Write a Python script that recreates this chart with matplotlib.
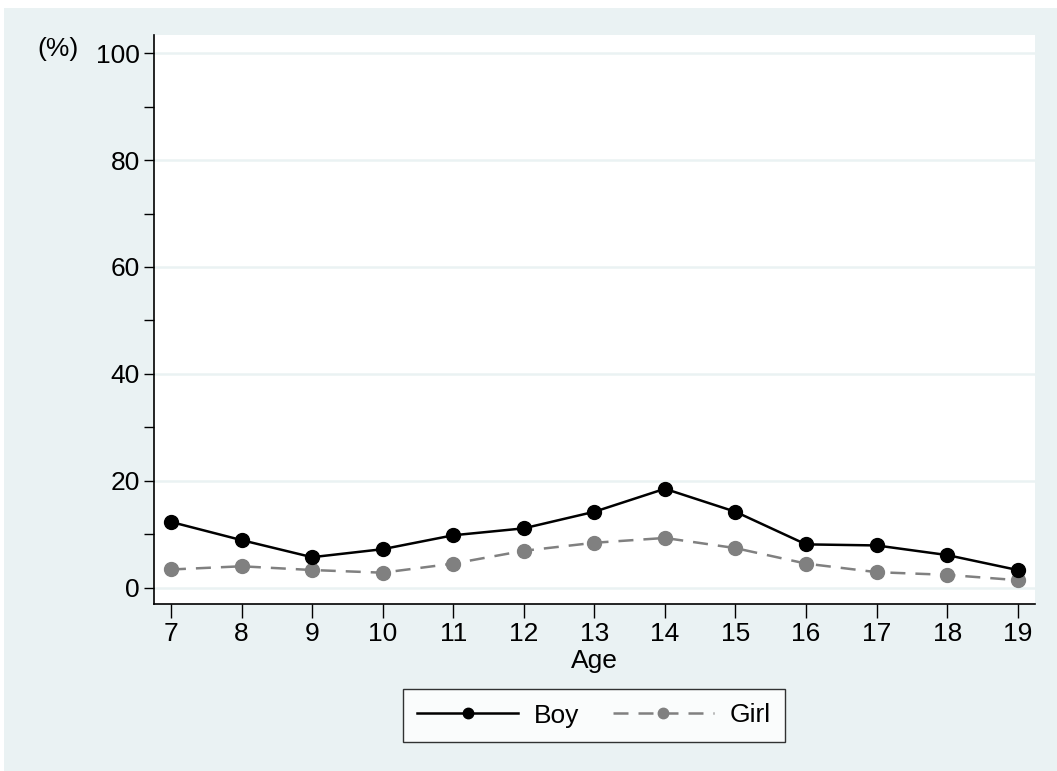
import numpy as np
import matplotlib.pyplot as plt
from matplotlib.patches import Rectangle

plt.rcParams['font.family'] = ['Liberation Sans', 'DejaVu Sans']

ages = [7, 8, 9, 10, 11, 12, 13, 14, 15, 16, 17, 18, 19]
boy = [12.3, 8.9, 5.7, 7.2, 9.8, 11.1, 14.2, 18.5, 14.2, 8.1, 7.9, 6.1, 3.3]
girl = [3.4, 4.0, 3.3, 2.8, 4.5, 6.9, 8.4, 9.3, 7.4, 4.5, 2.9, 2.4, 1.4]
yticks = [0, 20, 40, 60, 80, 100]

bg = '#EAF2F3'
fs = 19

fig = plt.figure(figsize=(10.57, 7.71), dpi=100)
fig.patch.set_facecolor('white')
fig.patches.append(Rectangle((4 / 1057, 0), 1, 1 - 8 / 771, transform=fig.transFigure,
                             facecolor=bg, edgecolor='none', zorder=-10))

ax = fig.add_axes([154 / 1057, 1 - 603.7 / 771, (1035 - 154) / 1057, (603.7 - 35) / 771])
ax.set_facecolor('white')

for y in yticks:
    ax.axhline(y, color=bg, lw=1.8, zorder=1)

ax.plot(ages, boy, color='black', lw=1.8, marker='o', ms=10, label='Boy', zorder=3)
ax.plot(ages, girl, color='#808080', lw=1.8, ls=(0, (6, 4)), marker='o', ms=10,
        label='Girl', zorder=2)

ax.set_xlim(6.76, 19.245)
ax.set_ylim(-3.0, 103.4)
ax.set_xticks(ages)
ax.set_yticks(yticks)
ax.set_yticks([10, 30, 50, 70, 90], minor=True)
ax.tick_params(axis='both', labelsize=fs, color='black', width=1)
ax.tick_params(axis='y', which='major', length=7, pad=3)
ax.tick_params(axis='y', which='minor', length=7, width=1)
ax.tick_params(axis='x', length=10, pad=3)

for s in ['top', 'right']:
    ax.spines[s].set_visible(False)
for s in ['left', 'bottom']:
    ax.spines[s].set_linewidth(1.2)

fig.text(594.5 / 1057, 1 - 661 / 771, 'Age', fontsize=fs, ha='center', va='center')
fig.text(58 / 1057, 1 - 49 / 771, '(%)', fontsize=fs, ha='center', va='center')

leg = fig.legend(loc='center', bbox_to_anchor=(594 / 1057, 1 - 715.5 / 771), ncol=2,
                 fontsize=fs, frameon=True, fancybox=False, edgecolor='black',
                 handlelength=3.8, markerscale=0.75, columnspacing=1.3,
                 handletextpad=0.6, borderpad=0.55, borderaxespad=0)
leg.get_frame().set_linewidth(1.0)

fig.savefig('out.png', dpi=100, facecolor=fig.get_facecolor())
